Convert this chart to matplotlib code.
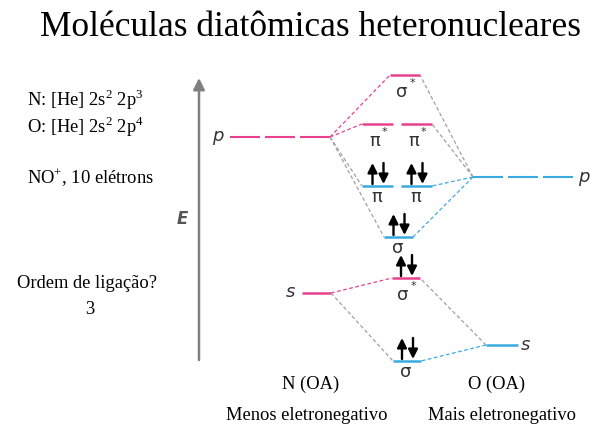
import matplotlib.pyplot as plt

plt.rcParams['mathtext.fontset'] = 'custom'
plt.rcParams['mathtext.rm'] = 'Liberation Serif'

### data: energy levels of the NO+ diagram (picture units, smaller = higher) ###
ao_side = ['N', 'N', 'O', 'O']
ao_names = ['p', 's', 'p', 's']
ao_energy = [137, 293, 177, 345]

mo_names = ['σ*', 'π*', 'π*', 'π', 'π', 'σ', 'σ*', 'σ']
mo_energy = [75, 124, 124, 186, 186, 237, 278, 361]
mo_electrons = [0, 0, 0, 2, 2, 2, 2, 2]
mo_antibonding = [True, True, True, False, False, False, True, False]

# which AO feeds which MO (index into ao_*, index into mo_*)
links = [(0, 0), (0, 1), (0, 3), (0, 5),
         (2, 0), (2, 2), (2, 4), (2, 5),
         (1, 6), (1, 7), (3, 6), (3, 7)]

config_text = ['N: [He] 2s$^2$ 2p$^3$', 'O: [He] 2s$^2$ 2p$^4$', 'NO$^{+}$, 10 elétrons']
bond_question = 'Ordem de ligação?'
bond_order = '3'

### layout ###
pink = '#E8418D'
blue = '#3AA9DF'
grey = '#a0a0a0'

ao_x = {'N': (230, 330), 'O': (473, 575)}
ao_s_x = {'N': (302, 331), 'O': (486, 518)}
mo_x = [(390, 420), (362, 393), (401, 432), (362, 393), (401, 432),
        (384, 413), (392, 420), (393, 421)]

fig = plt.figure(figsize=(5.9, 4.26), dpi=100)
ax = fig.add_axes([0, 0, 1, 1])
ax.set_xlim(0, 590)
ax.set_ylim(426, 0)
ax.axis('off')

# title
ax.text(311, 27, 'Moléculas diatômicas heteronucleares', ha='center', va='center',
        fontsize=25.5, family='Liberation Serif', color='black')

# left column text
serif = dict(family='Liberation Serif', fontsize=13.3, color='black', va='center')
for t, y in zip(config_text, [100, 127, 178]):
    ax.text(27, y, t, ha='left', **serif)
ax.text(17, 283, bond_question, ha='left', **serif)
ax.text(90, 310, bond_order, ha='center', **serif)

# energy axis
ax.annotate('', xy=(199, 78), xytext=(199, 360),
            arrowprops=dict(arrowstyle='-|>', color='#808080', lw=1.8,
                            mutation_scale=17, shrinkA=0, shrinkB=0))
ax.text(182, 219, 'E', ha='center', va='center', fontsize=12, fontweight='bold',
        style='italic', color='#555555', family='DejaVu Sans')

# atomic orbitals
ao_ends = []
for side, name, e in zip(ao_side, ao_names, ao_energy):
    col = pink if side == 'N' else blue
    if name == 'p':
        x0, x1 = ao_x[side]
        ax.plot([x0, x1], [e, e], color=col, lw=1.5, linestyle=(0, (14.4, 2.4)),
                solid_capstyle='butt', dash_capstyle='butt')
    else:
        x0, x1 = ao_s_x[side]
        ax.plot([x0, x1], [e, e], color=col, lw=1.8, solid_capstyle='butt')
    if side == 'N':
        ax.text(x0 - 7, e - 1, name, ha='right', va='center', fontsize=13,
                style='italic', color='#333333', family='DejaVu Sans')
        ao_ends.append(x1)
    else:
        ax.text(x1 + 3, e, name, ha='left', va='center', fontsize=13,
                style='italic', color='#333333', family='DejaVu Sans')
        ao_ends.append(x0)

# molecular orbitals
for (x0, x1), name, e, n, anti in zip(mo_x, mo_names, mo_energy, mo_electrons, mo_antibonding):
    col = pink if anti else blue
    ax.plot([x0, x1], [e, e], color=col, lw=1.8, solid_capstyle='butt')
    xc = (x0 + x1) / 2
    if name.endswith('*'):
        ax.text(xc - 3, e + 17, name[0], ha='center', va='center', fontsize=13,
                color='#333333', family='DejaVu Sans')
        ax.text(xc + 7, e + 8, '*', ha='center', va='center', fontsize=8,
                color='#333333', family='DejaVu Sans')
    else:
        ax.text(xc - 1, e + 11, name, ha='center', va='center', fontsize=13,
                color='#333333', family='DejaVu Sans')
    if n == 2:
        for dx, up in [(-5, True), (6, False)]:
            y_lo, y_hi = e - 2, e - 23
            start, end = (y_lo, y_hi) if up else (y_hi, y_lo)
            ax.annotate('', xy=(xc + dx, end), xytext=(xc + dx, start),
                        arrowprops=dict(arrowstyle='-|>', color='black', lw=1.7,
                                        mutation_scale=14, shrinkA=0, shrinkB=0))

# connectors
for ai, mi in links:
    side = ao_side[ai]
    x0, x1 = mo_x[mi]
    xm = x0 if side == 'N' else x1
    xa = ao_ends[ai]
    if mo_antibonding[mi]:
        col = pink if side == 'N' else grey
    else:
        col = grey if side == 'N' else blue
    ax.plot([xa, xm], [ao_energy[ai], mo_energy[mi]], color=col, lw=0.9,
            linestyle=(0, (3, 2)))

# bottom labels
ax.text(311, 384, 'N (OA)', ha='center', **serif)
ax.text(497, 384, 'O (OA)', ha='center', **serif)
ax.text(307, 416, 'Menos eletronegativo', ha='center', **serif)
ax.text(502, 416, 'Mais eletronegativo', ha='center', **serif)

fig.savefig('out.png', dpi=100)
